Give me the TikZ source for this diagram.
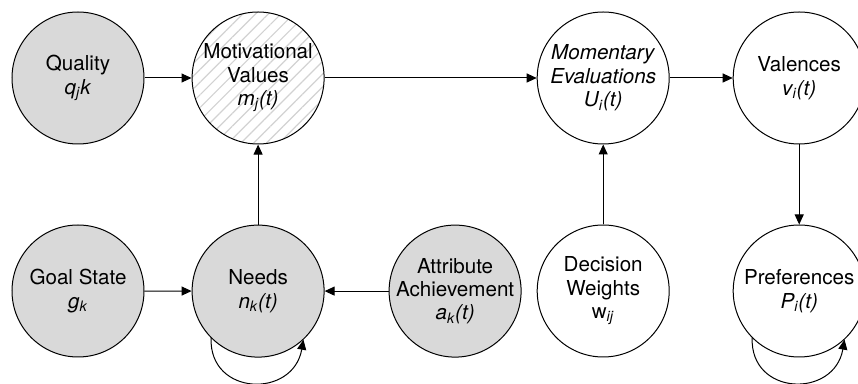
\documentclass[tikz,border=0pt]{standalone}
\usepackage{fontspec}
\setmainfont{TeX Gyre Heros}
\usepackage{tikz}
\usetikzlibrary{arrows.meta,positioning,patterns.meta}
\tikzstyle{var} = [circle, draw=black, line width=0.5pt, fill=gray!30, text=black, align=center, font=\fontsize{10.3}{11.7}\selectfont, minimum size=66pt, inner sep=-1.5pt]
\tikzstyle{hid} = [circle, draw=black, line width=0.5pt, fill=white, text=black, align=center, font=\fontsize{10.3}{11.7}\selectfont, minimum size=66pt, inner sep=-1.5pt]
\tikzstyle{mix} = [hid, pattern={Lines[angle=45,distance=4.5pt,line width=0.6pt]}, pattern color=gray!35]
\tikzstyle{link} = [draw, line width=0.5pt, -{Triangle[length=5pt,width=4.5pt]}]

\begin{document}
\begin{tikzpicture}
\useasboundingbox (0,0) rectangle (429pt,-192pt);

% top row
\node[var] (quality) at (39pt,-39pt) {Quality\\\textit{q\textsubscript{j}k}};
\node[mix, right=23.5pt of quality] (motiv) {Motivational\\Values\\\textit{m\textsubscript{j}(t)}};
\node[hid, right=106pt of motiv] (moment) {\textit{Momentary}\\\textit{Evaluations}\\\textit{U\textsubscript{i}(t)}};
\node[hid, right=31.5pt of moment] (valence) {Valences\\\textit{v\textsubscript{i}(t)}};

% bottom row
\node[var, below=40pt of quality] (goal) {Goal State\\\textit{g\textsubscript{k}}};
\node[var, below=40pt of motiv] (needs) {Needs\\\textit{n\textsubscript{k}(t)}};
\node[var, right=32pt of needs] (attr) {Attribute\\Achievement\\\textit{a\textsubscript{k}(t)}};
\node[hid, below=40pt of moment] (weight) {Decision\\Weights\\w\textsubscript{\textit{ij}}};
\node[hid, below=40pt of valence] (pref) {Preferences\\\textit{P\textsubscript{i}(t)}};

%edges
\path[link] (quality) -- (motiv);
\path[link] (motiv) -- (moment);
\path[link] (moment) -- (valence);
\path[link] (needs) -- (motiv);
\path[link] (weight) -- (moment);
\path[link] (valence) -- (pref);
\path[link] (goal) -- (needs);
\path[link] (attr) -- (needs);

% self loops
\path[link] (needs.225) .. controls +(-92:29pt) and +(-100:30pt) .. (needs.-47);
\path[link] (pref.225) .. controls +(-92:29pt) and +(-100:30pt) .. (pref.-47);

\end{tikzpicture}
\end{document}
